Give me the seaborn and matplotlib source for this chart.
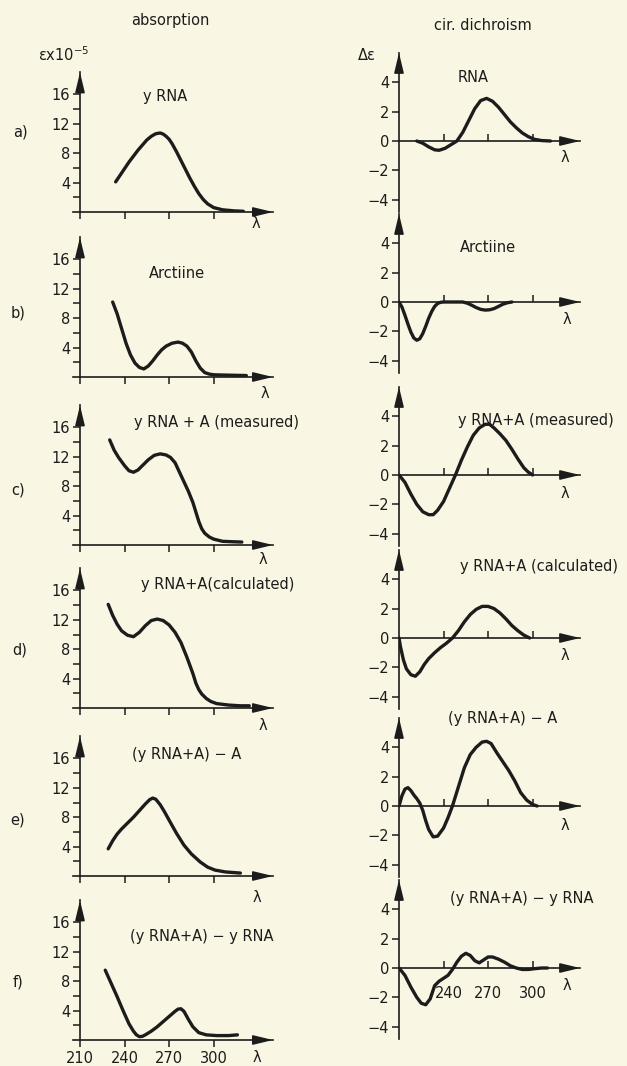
import matplotlib
matplotlib.use("Agg")
import matplotlib.pyplot as plt
import seaborn as sns

# ---------------- data ----------------
# Absorption (eps x 1e-5) vs wavelength (nm)
abs_a_wl = [234, 237, 240, 243, 246, 249, 252, 255, 258, 261, 264, 266, 268, 270, 272, 275, 278, 281, 284, 287, 290, 293, 296, 300, 306, 314, 320]
abs_a_val = [4.1, 5.0, 5.9, 6.8, 7.6, 8.4, 9.1, 9.8, 10.3, 10.65, 10.75, 10.6, 10.3, 9.9, 9.3, 8.2, 7.0, 5.8, 4.6, 3.5, 2.5, 1.7, 1.1, 0.6, 0.3, 0.15, 0.1]

abs_b_wl = [232, 235, 238, 241, 244, 247, 250, 253, 256, 259, 262, 265, 268, 272, 276, 279, 282, 285, 288, 291, 294, 297, 300, 310, 322]
abs_b_val = [10.2, 8.6, 6.6, 4.6, 3.0, 1.9, 1.3, 1.1, 1.5, 2.2, 3.0, 3.7, 4.2, 4.6, 4.75, 4.6, 4.2, 3.4, 2.2, 1.2, 0.6, 0.4, 0.3, 0.25, 0.2]

abs_c_wl = [230, 233, 236, 240, 243, 246, 249, 252, 256, 260, 264, 268, 271, 274, 277, 280, 283, 286, 288, 290, 292, 294, 297, 300, 306, 312, 319]
abs_c_val = [14.3, 12.9, 11.9, 10.8, 10.1, 9.9, 10.2, 10.8, 11.6, 12.2, 12.4, 12.25, 11.9, 11.2, 9.9, 8.6, 7.3, 5.8, 4.5, 3.2, 2.2, 1.6, 1.1, 0.8, 0.5, 0.45, 0.4]

abs_d_wl = [229, 232, 235, 238, 242, 246, 250, 254, 258, 262, 266, 270, 274, 278, 282, 286, 288, 290, 292, 295, 298, 302, 310, 318, 324]
abs_d_val = [14.1, 12.6, 11.4, 10.5, 9.9, 9.7, 10.3, 11.2, 11.9, 12.1, 11.9, 11.3, 10.3, 8.9, 6.9, 4.7, 3.4, 2.5, 1.9, 1.3, 0.9, 0.6, 0.4, 0.3, 0.3]

abs_e_wl = [229, 232, 235, 238, 242, 246, 250, 254, 257, 259, 261, 264, 267, 270, 275, 280, 285, 291, 296, 301, 308, 318]
abs_e_val = [3.7, 4.8, 5.7, 6.4, 7.2, 8.0, 8.9, 9.8, 10.4, 10.6, 10.45, 9.7, 8.7, 7.6, 5.8, 4.2, 3.0, 1.9, 1.2, 0.8, 0.55, 0.4]

abs_f_wl = [227, 231, 235, 239, 243, 246, 248, 250, 252, 254, 258, 262, 266, 270, 274, 276, 278, 280, 283, 286, 290, 295, 302, 310, 316]
abs_f_val = [9.5, 7.7, 5.9, 4.0, 2.2, 1.2, 0.7, 0.45, 0.5, 0.7, 1.2, 1.8, 2.5, 3.2, 3.9, 4.2, 4.25, 3.9, 2.8, 1.8, 1.0, 0.7, 0.6, 0.6, 0.7]

# Circular dichroism (delta eps) vs wavelength (nm)
cd_a_wl = [222, 226, 230, 234, 237, 241, 245, 249, 253, 257, 261, 265, 269, 273, 277, 281, 285, 289, 293, 297, 301, 306, 312]
cd_a_val = [0, -0.15, -0.4, -0.6, -0.63, -0.5, -0.25, 0, 0.6, 1.4, 2.2, 2.75, 2.9, 2.7, 2.3, 1.8, 1.3, 0.9, 0.55, 0.3, 0.12, 0.03, 0]

cd_b_wl = [210, 212, 214, 216, 218, 220, 222, 224, 226, 228, 230, 232, 234, 236, 238, 240, 253, 256, 259, 262, 265, 268, 271, 274, 277, 280, 283, 286]
cd_b_val = [0, -0.35, -0.9, -1.5, -2.05, -2.45, -2.6, -2.5, -2.15, -1.65, -1.1, -0.65, -0.3, -0.1, -0.02, 0, 0, -0.08, -0.22, -0.38, -0.5, -0.55, -0.53, -0.45, -0.3, -0.15, -0.05, 0]

cd_c_wl = [210, 214, 218, 222, 226, 230, 233, 236, 240, 244, 248, 252, 256, 260, 264, 268, 271, 274, 278, 282, 286, 290, 294, 297, 300]
cd_c_val = [0, -0.5, -1.3, -2.0, -2.5, -2.7, -2.7, -2.4, -1.8, -0.9, 0, 1.0, 1.9, 2.7, 3.2, 3.45, 3.45, 3.2, 2.8, 2.35, 1.75, 1.1, 0.5, 0.2, 0]

cd_d_wl = [210, 211, 213, 215, 218, 221, 224, 227, 230, 234, 238, 242, 246, 250, 254, 258, 262, 266, 270, 274, 278, 282, 286, 290, 294, 298]
cd_d_val = [0, -0.6, -1.5, -2.1, -2.5, -2.6, -2.3, -1.8, -1.4, -1.0, -0.65, -0.35, 0, 0.5, 1.1, 1.6, 1.95, 2.15, 2.15, 2.0, 1.7, 1.3, 0.85, 0.5, 0.2, 0]

cd_e_wl = [210, 212, 214, 216, 218, 220, 222, 224, 226, 228, 230, 233, 236, 240, 243, 246, 250, 254, 258, 262, 266, 269, 272, 276, 280, 284, 288, 292, 296, 300, 303]
cd_e_val = [0, 0.7, 1.15, 1.25, 1.05, 0.75, 0.5, 0.2, -0.3, -1.0, -1.6, -2.1, -2.05, -1.5, -0.8, 0, 1.3, 2.6, 3.5, 4.0, 4.35, 4.4, 4.25, 3.6, 3.0, 2.4, 1.7, 0.9, 0.4, 0.1, 0]

cd_f_wl = [210, 214, 218, 222, 225, 228, 231, 234, 237, 240, 243, 246, 249, 252, 255, 258, 261, 264, 267, 270, 273, 277, 281, 285, 289, 293, 297, 301, 306, 310]
cd_f_val = [0, -0.5, -1.3, -2.0, -2.4, -2.5, -2.1, -1.2, -0.9, -0.7, -0.5, -0.1, 0.4, 0.8, 1.0, 0.85, 0.5, 0.35, 0.55, 0.75, 0.75, 0.6, 0.4, 0.15, 0, -0.1, -0.1, -0.05, 0, 0]

abs_titles = ["y RNA", "Arctiine", "y RNA + A (measured)", "y RNA+A(calculated)",
              "(y RNA+A) − A", "(y RNA+A) − y RNA"]
cd_titles = ["RNA", "Arctiine", "y RNA+A (measured)", "y RNA+A (calculated)",
             "(y RNA+A) − A", "(y RNA+A) − y RNA"]
row_labels = ["a)", "b)", "c)", "d)", "e)", "f)"]
abs_yticks = [2, 4, 6, 8, 10, 12, 14, 16]
abs_yticklabels = ["", "4", "", "8", "", "12", "", "16"]
cd_yticks = [-4, -2, 0, 2, 4]
cd_yticklabels = ["−4", "−2", "0", "2", "4"]
wl_ticks = [240, 270, 300]
bottom_wl_labels = ["210", "240", "270", "300"]

abs_series = [(abs_a_wl, abs_a_val), (abs_b_wl, abs_b_val), (abs_c_wl, abs_c_val),
              (abs_d_wl, abs_d_val), (abs_e_wl, abs_e_val), (abs_f_wl, abs_f_val)]
cd_series = [(cd_a_wl, cd_a_val), (cd_b_wl, cd_b_val), (cd_c_wl, cd_c_val),
             (cd_d_wl, cd_d_val), (cd_e_wl, cd_e_val), (cd_f_wl, cd_f_val)]

# ---------------- style / layout ----------------
sns.set_theme(style="white")
plt.rcParams["font.family"] = ["Liberation Sans Narrow", "DejaVu Sans"]
plt.rcParams["mathtext.default"] = "regular"

BG = "#F9F6E3"
INK = "#1c1c1c"
FS = 10.5
W, H = 627, 1066
fig = plt.figure(figsize=(W / 100, H / 100), dpi=100, facecolor=BG)

def add_px_axes(x0, x1, ytop, ybot):
    ax = fig.add_axes([x0 / W, 1 - ybot / H, (x1 - x0) / W, (ybot - ytop) / H])
    ax.set_facecolor("none")
    return ax

def ftext(x, y, s, **kw):
    kw.setdefault("ha", "center")
    kw.setdefault("va", "center")
    kw.setdefault("fontsize", FS)
    kw.setdefault("color", INK)
    fig.text(x / W, 1 - y / H, s, **kw)

def arrow(ax, xy, xytext, trans):
    ax.annotate("", xy=xy, xycoords=trans, xytext=xytext, textcoords=trans,
                arrowprops=dict(arrowstyle="-|>,head_length=1.0,head_width=0.24",
                                color=INK, lw=1.2, shrinkA=0, shrinkB=0),
                annotation_clip=False)

def style_axes(ax):
    for s in ("top", "right"):
        ax.spines[s].set_visible(False)
    for s in ("left", "bottom"):
        ax.spines[s].set_color(INK)
        ax.spines[s].set_linewidth(1.2)

# Left column geometry
L_ZERO = [212, 377, 545, 708, 876, 1040]
L_PPU = 7.35
L_XLIM = (205, 340)
L_X0 = 80 - 5 * 1.485
L_X1 = 80 + 130 * 1.485
L_YMAX = 19.0

# Right column geometry
R_ZERO = [141, 302, 475, 638, 806, 968]
R_PPU = 14.7
R_XLIM = (210, 332)
R_X0 = 399
R_X1 = 399 + 122 * 1.485
R_YLIM = (-4.8, 6.0)

left_lambda = [(256, 224), (265, 393), (263, 560), (263, 726), (257, 897), None]
right_lambda = [(565, 157), (567, 320), (565, 493), (565, 655), (565, 825), (567, 985)]
left_title_pos = [(165, 97), (177, 273), (217, 422), (218, 585), (187, 755), (202, 937)]
right_title_pos = [(473, 78), (488, 248), (536, 421), (539, 567), (503, 718), (522, 898)]
row_label_pos = [(20, 132), (18, 313), (18, 490), (20, 650), (18, 820), (18, 982)]

for i in range(6):
    # ---- absorption panel ----
    z = L_ZERO[i]
    ax = add_px_axes(L_X0, L_X1, z - L_YMAX * L_PPU, z)
    wl, val = abs_series[i]
    sns.lineplot(x=wl, y=val, ax=ax, color=INK, linewidth=2.4,
                 solid_capstyle="round", solid_joinstyle="round")
    ax.set_xlim(*L_XLIM)
    ax.set_ylim(0, L_YMAX)
    style_axes(ax)
    ax.spines["left"].set_position(("data", 210))
    ax.set_yticks(abs_yticks)
    ax.set_yticklabels(abs_yticklabels)
    ax.tick_params(axis="y", direction="out", length=5, width=1.1, color=INK,
                   labelsize=FS, labelcolor=INK, pad=2, left=True)
    ax.set_xticks([210] + wl_ticks)
    ax.tick_params(axis="x", direction="out", length=5, width=1.1, color=INK,
                   labelsize=FS, labelcolor=INK, bottom=True, pad=3)
    if i == 5:
        ax.set_xticklabels(bottom_wl_labels)
    else:
        ax.set_xticklabels([])
    ax.set_xlabel("")
    ax.set_ylabel("")
    arrow(ax, (1.0, 0), (0.9, 0), ax.get_yaxis_transform())
    arrow(ax, (210, 1.0), (210, 0.9), ax.get_xaxis_transform())
    if left_lambda[i] is not None:
        ftext(*left_lambda[i], "λ")
    ftext(*left_title_pos[i], abs_titles[i])
    ftext(*row_label_pos[i], row_labels[i])

    # ---- CD panel ----
    r = R_ZERO[i]
    ax = add_px_axes(R_X0, R_X1, r - R_YLIM[1] * R_PPU, r - R_YLIM[0] * R_PPU)
    wl, val = cd_series[i]
    sns.lineplot(x=wl, y=val, ax=ax, color=INK, linewidth=2.4,
                 solid_capstyle="round", solid_joinstyle="round")
    ax.set_xlim(*R_XLIM)
    ax.set_ylim(*R_YLIM)
    style_axes(ax)
    ax.spines["bottom"].set_position(("data", 0))
    ax.set_yticks(cd_yticks)
    ax.set_yticklabels(cd_yticklabels)
    ax.tick_params(axis="y", direction="out", length=5, width=1.1, color=INK,
                   labelsize=FS, labelcolor=INK, pad=2, left=True)
    ax.set_xticks(wl_ticks)
    ax.set_xticklabels([])
    ax.tick_params(axis="x", direction="in", length=5, width=1.1, color=INK, bottom=True)
    ax.set_xlabel("")
    ax.set_ylabel("")
    arrow(ax, (1.0, 0), (0.9, 0), ax.get_yaxis_transform())
    arrow(ax, (210, 1.0), (210, 0.9), ax.get_xaxis_transform())
    ftext(*right_lambda[i], "λ")
    ftext(*right_title_pos[i], cd_titles[i])
    if i == 5:
        for t, xx in zip(wl_ticks, [449, 488, 533]):
            ftext(xx, 993, str(t))

ftext(257, 1057, "λ")
ftext(170, 20, "absorption")
ftext(483, 25, "cir. dichroism")
ftext(64, 55, "εx10$^{-5}$")
ftext(367, 55, "Δε")

fig.savefig("out.png", dpi=100, facecolor=BG)
